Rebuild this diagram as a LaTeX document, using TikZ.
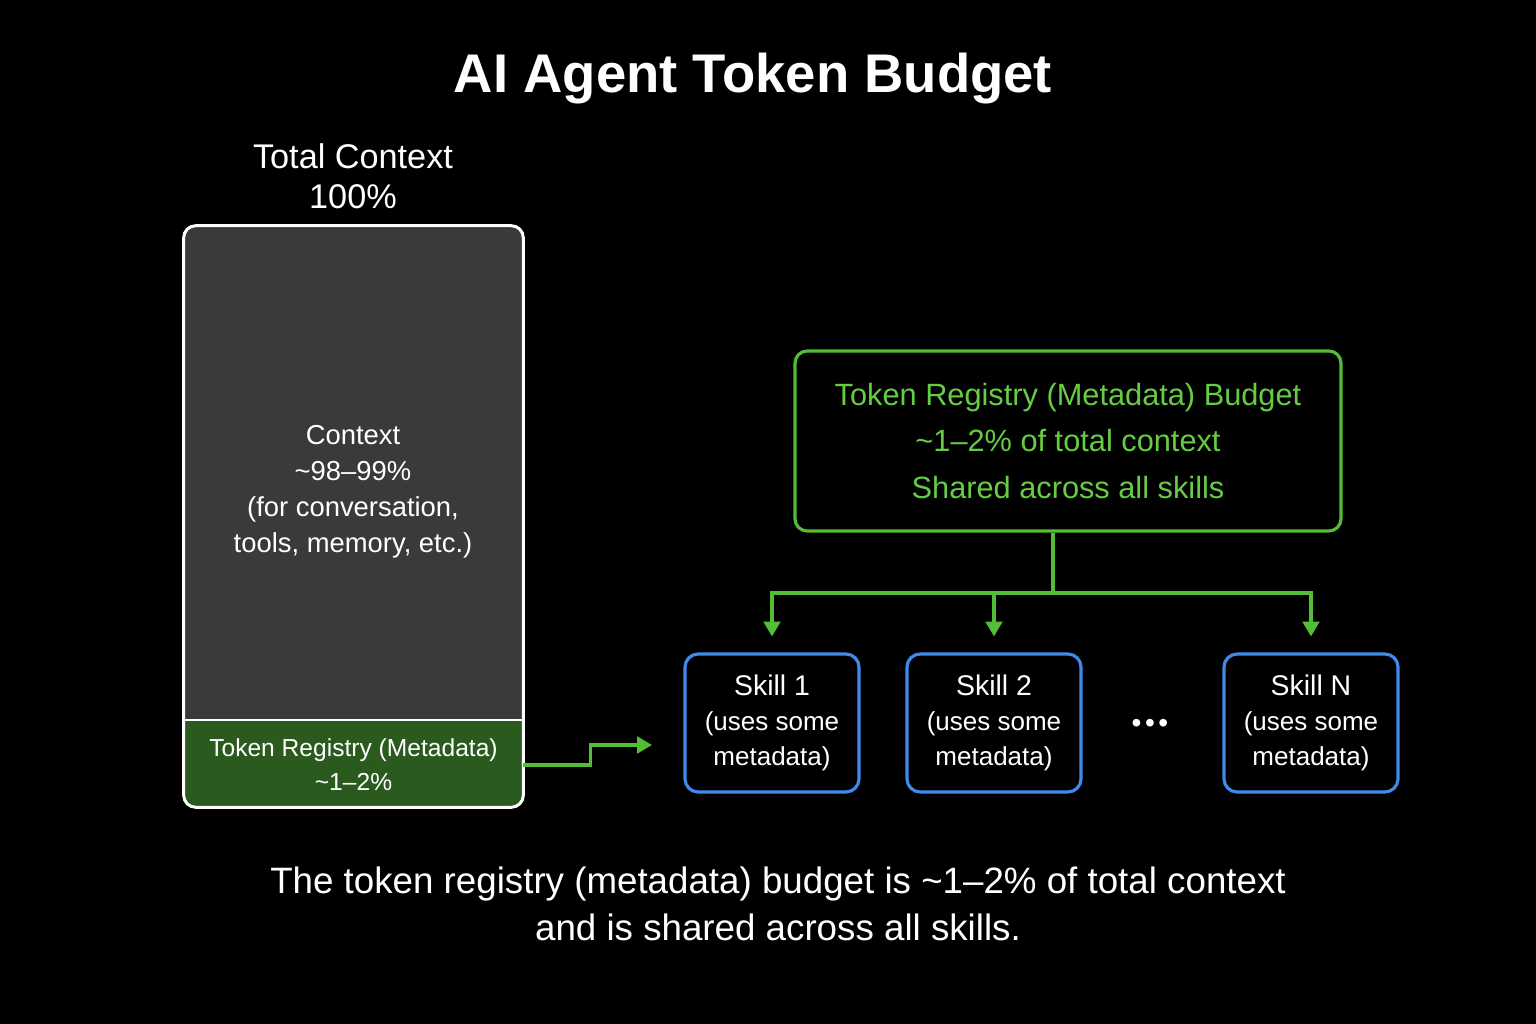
\documentclass[tikz,border=0pt]{standalone}
\usepackage{fontspec}
\setmainfont{Liberation Sans}
\usetikzlibrary{arrows.meta,positioning}

\definecolor{ctxgray}{HTML}{3A3A3C}
\definecolor{regfill}{HTML}{2B5A1E}
\definecolor{linegreen}{HTML}{52BE35}
\definecolor{textgreen}{HTML}{66CC44}
\definecolor{skillblue}{HTML}{3F8BEB}

\begin{document}
\begin{tikzpicture}[
  x=0.02cm,y=-0.02cm,
  every node/.style={text=white,align=center,inner sep=0pt},
  titletext/.style={font=\fontsize{31}{36}\selectfont\bfseries},
  headtext/.style={font=\fontsize{19.5}{22.7}\selectfont},
  ctxtext/.style={font=\fontsize{15.6}{20.4}\selectfont},
  regtext/.style={font=\fontsize{14}{19.5}\selectfont,minimum width=6.78cm,minimum height=1.74cm},
  budgetbox/.style={rectangle,rounded corners=0.24cm,draw=linegreen,line width=1.8pt,
               text=textgreen,minimum width=10.92cm,minimum height=3.6cm,
               font=\fontsize{17.5}{26.4}\selectfont},
  skillbox/.style={rectangle,rounded corners=0.26cm,draw=skillblue,line width=1.8pt,
               minimum width=3.48cm,minimum height=2.76cm,font=\fontsize{14.8}{19.8}\selectfont},
  capttext/.style={font=\fontsize{20.9}{26.6}\selectfont},
  arr/.style={-{Triangle[length=8.5pt,width=9.5pt]},draw=linegreen,line width=1.8pt},
  conn/.style={draw=linegreen,line width=1.8pt}
]
  \useasboundingbox (0,0) rectangle (1536,1024);
  \fill[black] (0,0) rectangle (1536,1024);

  \node[titletext] (title) at (753,79) {AI Agent Token Budget};
  \node[headtext] (head) at (353,176) {Total Context\\100\%};

  % left context column
  \node[rectangle,rounded corners=0.24cm,fill=ctxgray,minimum width=6.78cm,minimum height=11.62cm]
    (total) at (353.5,516.5) {};
  \begin{scope}
    \clip[rounded corners=0.24cm] (total.south west) rectangle (total.north east);
    \fill[regfill] (184,720) rectangle (523,807);
  \end{scope}
  \draw[white,line width=1.5pt] (184,720) -- (523,720);
  \draw[white,line width=1.7pt,rounded corners=0.24cm] (total.south west) rectangle (total.north east);

  \node[ctxtext] (ctx) at (353,492) {Context\\\textasciitilde98--99\%\\(for conversation,\\tools, memory, etc.)};
  \node[regtext] (reg) at (353.5,765) {Token Registry (Metadata)\\\textasciitilde1--2\%};

  \coordinate (regend) at (652,745);
  \draw[arr] (reg.east) -- ++(67,0) |- (regend);

  % registry budget and skills
  \node[budgetbox] (budget) at (1068,441) {Token Registry (Metadata) Budget\\\textasciitilde1--2\% of total context\\Shared across all skills};

  \node[skillbox] (skillA) at (772,723) {{\fontsize{16.2}{19.8}\selectfont Skill 1}\\(uses some\\metadata)};
  \node[skillbox] (skillB) at (994,723) {{\fontsize{16.2}{19.8}\selectfont Skill 2}\\(uses some\\metadata)};
  \node[skillbox] (skillN) at (1311,723) {{\fontsize{16.2}{19.8}\selectfont Skill N}\\(uses some\\metadata)};
  \node[font=\fontsize{16}{19}\selectfont] (dots) at (1150,726) {\textbullet\hspace{2pt}\textbullet\hspace{2pt}\textbullet};

  \coordinate (split) at (1053,593);
  \draw[conn] (split |- budget.south) -- (split);
  \draw[arr,shorten >=0.32cm] (split) -| (skillA.north);
  \draw[arr,shorten >=0.32cm] (split) -| (skillB.north);
  \draw[arr,shorten >=0.32cm] (split) -| (skillN.north);

  \node[capttext] (caption) at (778,904) {The token registry (metadata) budget is \textasciitilde1--2\% of total context\\and is shared across all skills.};
\end{tikzpicture}
\end{document}
